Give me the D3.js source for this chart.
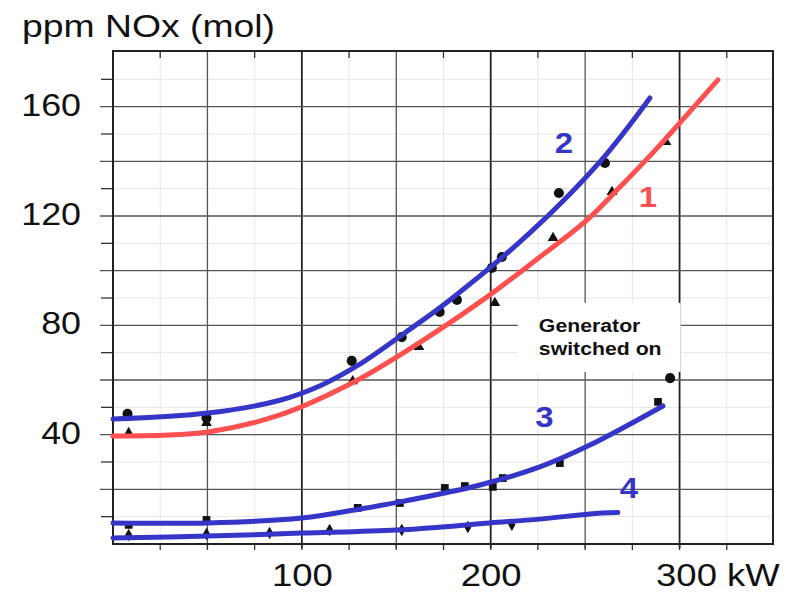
<!DOCTYPE html>
<html>
<head>
<meta charset="utf-8">
<script src="https://cdn.jsdelivr.net/npm/d3@7"></script>
<style>
body { margin: 0; background: #fff; }
svg { display: block; font-family: "Liberation Sans", Arial, sans-serif; }
.faint line { stroke: #e6e6e6; stroke-width: 1; }
.grid line { stroke: #555; stroke-width: 1.3; }
.grid line.major { stroke: #222; stroke-width: 1.8; }
.frame { fill: none; stroke: #222; stroke-width: 2; }
.tick-marks line { stroke: #333; stroke-width: 1.3; }
.labels text { font-size: 32px; fill: #111; }
.labels .domain { display: none; }
.curve { fill: none; stroke-width: 5; stroke-linecap: round; stroke-linejoin: round; }
.num { font-size: 30px; font-weight: bold; text-anchor: middle; }
.note { font-size: 18px; font-weight: bold; fill: #111; }
</style>
</head>
<body>
<svg id="chart" width="793" height="594"></svg>
<script>
// axis values
var gridKw = [50, 100, 150, 200, 250, 300];
var gridPpm = [20, 40, 60, 80, 100, 120, 140, 160];
var kwLabels = [100, 200, 300];
var ppmLabels = [40, 80, 120, 160];

// fitted curves
var curve1Kw  = [0, 50.3, 88.4, 125.5, 154.6, 195.9, 226, 250.9, 268.4, 285.8, 320.3];
var curve1Ppm = [39.5, 41, 47.2, 58.5, 70.3, 89.3, 105, 118.5, 130.6, 143.1, 169.8];
var curve2Kw  = [0, 50.3, 88.4, 110, 130, 155, 178.4, 220.7, 257.8, 284.3];
var curve2Ppm = [45.7, 47.9, 52.6, 58, 65.5, 77.5, 89.3, 113.8, 139.8, 163.2];
var curve3Kw  = [0, 50.3, 100, 130.8, 151.9, 194.3, 226, 252.5, 291.2];
var curve3Ppm = [7.7, 7.7, 9.5, 12.8, 15.4, 21.6, 28.2, 36.2, 50.5];
var curve4Kw  = [0, 50.3, 100, 150.3, 199.6, 226, 252.5, 267.3];
var curve4Ppm = [2.2, 2.9, 4, 5.1, 7.7, 9.1, 11, 11.5];

// measured points
var circleKw  = [7.7, 49.5, 126.4, 152.9, 173, 182.1, 200.6, 205.9, 236.1, 260.5, 295];
var circlePpm = [47.6, 46.1, 67, 75.7, 84.9, 89.3, 101, 105, 128.4, 139.4, 60.7];
var triangleKw  = [8.3, 49.5, 126.9, 162, 202.2, 233, 264.2, 292.8];
var trianglePpm = [40.6, 44.3, 59.6, 72.1, 88.2, 112, 128.8, 147.1];
var squareKw  = [8.3, 49.5, 129.6, 151.9, 175.7, 186.3, 201.1, 206.4, 236.6, 288.6];
var squarePpm = [7, 8.8, 13.2, 15, 20.5, 21.2, 20.9, 24.1, 29.6, 52];
var diamondKw  = [8.3, 49.5, 82.9, 114.7, 152.9, 187.9, 211.2];
var diamondPpm = [3.3, 3.7, 4, 5.1, 5.1, 6.2, 7];

var curveNames = ["1", "2", "3", "4"];
var noteLines = ["Generator", "switched on"];

var blue = "#3535c8", red = "#ff5050";

var svg = d3.select("#chart");
var x = d3.scaleLinear().domain([0, 350]).range([113, 774]);
var y = d3.scaleLinear().domain([0, 180]).range([544, 52]);
var plotL = x(0), plotR = 773, plotT = 51, plotB = y(0);

var stretch = function (sel, k) {
    sel.each(function () {
        var w = this.getComputedTextLength();
        this.setAttribute("textLength", w * k);
        this.setAttribute("lengthAdjust", "spacingAndGlyphs");
    });
};
var zip = function (a, b) { return a.map(function (v, i) { return [v, b[i]]; }); };

// faint scan lines
var faint = svg.append("g").attr("class", "faint");
faint.selectAll("line.v").data(d3.range(25, 350, 50)).join("line")
    .attr("x1", d => x(d)).attr("x2", d => x(d)).attr("y1", plotT).attr("y2", plotB);
faint.selectAll("line.h").data(d3.range(10, 180, 20)).join("line")
    .attr("x1", plotL).attr("x2", plotR).attr("y1", d => y(d)).attr("y2", d => y(d));

// grid
var grid = svg.append("g").attr("class", "grid");
grid.selectAll("line.v").data(gridKw).join("line")
    .classed("major", d => d % 100 === 0)
    .attr("x1", d => x(d)).attr("x2", d => x(d)).attr("y1", plotT).attr("y2", plotB + 4);
grid.selectAll("line.h").data(gridPpm).join("line")
    .attr("x1", plotL - 13).attr("x2", plotR).attr("y1", d => y(d)).attr("y2", d => y(d));

// small ticks
var ticks = svg.append("g").attr("class", "tick-marks");
ticks.selectAll("line.l").data(d3.range(10, 180, 20)).join("line")
    .attr("x1", plotL - 12).attr("x2", plotL).attr("y1", d => y(d)).attr("y2", d => y(d));
ticks.selectAll("line.b").data(d3.range(25, 350, 25)).join("line")
    .attr("x1", d => x(d)).attr("x2", d => x(d)).attr("y1", plotB).attr("y2", plotB + 6);
ticks.selectAll("line.t").data(d3.range(25, 350, 50)).join("line")
    .attr("x1", d => x(d)).attr("x2", d => x(d)).attr("y1", plotT).attr("y2", plotT + 7);

svg.append("rect").attr("class", "frame")
    .attr("x", plotL).attr("y", plotT).attr("width", plotR - plotL).attr("height", plotB - plotT);

// tick labels
var xl = svg.append("g").attr("class", "labels")
    .attr("transform", "translate(0," + plotB + ")")
    .call(d3.axisBottom(x).tickValues(kwLabels).tickSize(0));
xl.selectAll("text").attr("y", 42).attr("dy", null);
xl.selectAll("text").filter(d => d === 300).text("300 kW")
    .attr("text-anchor", "start").attr("x", -24);
stretch(xl.selectAll("text"), 1.14);

var yl = svg.append("g").attr("class", "labels")
    .attr("transform", "translate(" + plotL + ",0)")
    .call(d3.axisLeft(y).tickValues(ppmLabels).tickSize(0).tickPadding(32));
yl.selectAll("text").attr("dy", "0.27em");
stretch(yl.selectAll("text"), 1.12);

svg.append("text").attr("x", 22).attr("y", 37)
    .style("font-size", "32px").style("fill", "#111")
    .attr("textLength", 253).attr("lengthAdjust", "spacingAndGlyphs")
    .text("ppm NOx (mol)");

// points
var pts = svg.append("g").attr("fill", "#111");
var drawSym = function (kw, ppm, type, size) {
    pts.selectAll(null).data(zip(kw, ppm)).join("path")
        .attr("transform", d => "translate(" + x(d[0]) + "," + y(d[1]) + ")")
        .attr("d", d3.symbol().type(type).size(size));
};
drawSym(circleKw, circlePpm, d3.symbolCircle, 80);
drawSym(triangleKw, trianglePpm, d3.symbolTriangle, 50);
drawSym(squareKw, squarePpm, d3.symbolSquare, 60);
drawSym(diamondKw, diamondPpm, d3.symbolDiamond, 45);

// curves
var line = d3.line().x(d => x(d[0])).y(d => y(d[1])).curve(d3.curveCatmullRom.alpha(0.5));
[[curve1Kw, curve1Ppm, red], [curve2Kw, curve2Ppm, blue],
 [curve3Kw, curve3Ppm, blue], [curve4Kw, curve4Ppm, blue]].forEach(function (c) {
    svg.append("path").attr("class", "curve").attr("stroke", c[2])
        .attr("d", line(zip(c[0], c[1])));
});

// curve numbers
var numAt = [[283.2, 123.3, red], [238.8, 143.1, blue], [228.4, 42.8, blue], [273.2, 16.8, blue]];
curveNames.forEach(function (n, i) {
    var t = svg.append("text").attr("class", "num")
        .attr("x", x(numAt[i][0])).attr("y", y(numAt[i][1]))
        .attr("fill", numAt[i][2]).text(n);
    stretch(t, 1.1);
});

// note box
var note = svg.append("g");
var box = note.append("rect").attr("fill", "#fff");
var nt = note.selectAll("text").data(noteLines).join("text").attr("class", "note")
    .attr("x", x(225.5)).attr("y", (d, i) => y(77.6) + i * 23).text(d => d);
stretch(nt, 1.18);
var bb = note.node().getBBox();
box.attr("x", bb.x - 21).attr("y", bb.y - 13).attr("width", bb.width + 40).attr("height", bb.height + 26);
</script>
</body>
</html>
